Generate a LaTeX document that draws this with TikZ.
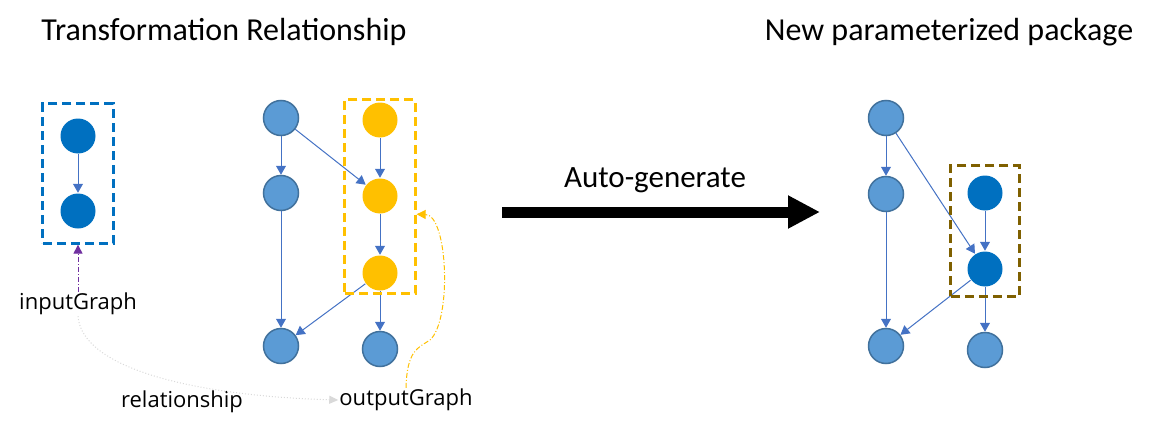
\documentclass[tikz,border=0pt]{standalone}
\usepackage{fontspec}
\setmainfont{Carlito}
\newfontfamily\labelfont{Open Sans}
\usetikzlibrary{fit}
\usetikzlibrary{arrows.meta}
\definecolor{lightnode}{HTML}{5B9BD5}
\definecolor{lightrim}{HTML}{41719C}
\definecolor{darknode}{HTML}{0070C0}
\definecolor{goldnode}{HTML}{FFC000}
\definecolor{edgeblue}{HTML}{4472C4}
\definecolor{pkgbrown}{HTML}{7F6000}
\definecolor{linkpurple}{HTML}{7030A0}
\tikzset{vert/.style={circle, minimum size=35pt, inner sep=0pt, draw=lightrim, line width=1.5pt, fill=lightnode}}
\tikzset{dark/.style={vert, draw=none, fill=darknode}}
\tikzset{gold/.style={vert, draw=none, fill=goldnode}}
\tikzset{link/.style={edgeblue, line width=1pt, -{Triangle[width=10pt,length=9pt]}}}
\tikzset{frame/.style={rectangle, line width=2.8pt, dash pattern=on 9pt off 5pt, inner sep=9pt}}
\tikzset{tag/.style={font=\labelfont\fontsize{22}{26}\selectfont, inner sep=1pt}}

\begin{document}
\begin{tikzpicture}[x=1pt, y=-1pt]

    \useasboundingbox (0,0) rectangle (1152,431);

    \node[font=\fontsize{32}{36}\selectfont] (title1) at (224,32) {Transformation Relationship};
    \node[font=\fontsize{32}{36}\selectfont] (title2) at (949,32) {New parameterized package};

    % input graph
    \node[dark] (in1) at (78,136) {};
    \node[dark] (in2) at (78,211) {};
    \draw[link] (in1) -- (in2);
    \node[frame, draw=darknode, fit=(in1)(in2), inner xsep=17pt, inner ysep=14pt] (inBox) {};

    % output graph
    \node[vert] (a1) at (281,118) {};
    \node[vert] (a2) at (281,193) {};
    \node[vert] (a3) at (281,346) {};
    \node[gold] (b1) at (380,120) {};
    \node[gold] (b2) at (380,196) {};
    \node[gold] (b3) at (380,273) {};
    \node[vert] (b4) at (380,349) {};
    \draw[link] (a1) -- (a2);
    \draw[link] (a1) -- (b2);
    \draw[link] (a2) -- (a3);
    \draw[link] (b1) -- (b2);
    \draw[link] (b2) -- (b3);
    \draw[link] (b3) -- (a3);
    \draw[link] (b3) -- (b4);
    \node[frame, draw=goldnode, fit=(b1)(b3), inner xsep=17pt, inner ysep=2pt] (outBox) {};

    \node[tag] (inLabel) at (78,304) {inputGraph};
    \node[tag] (relLabel) at (182,402) {relationship};
    \node[tag] (outLabel) at (406,400) {outputGraph};

    \draw[linkpurple, line width=1pt, dash pattern=on 5pt off 2pt on 1pt off 2pt, -{Triangle[width=9pt,length=9pt]}] (inLabel.north) -- (inBox.south);
    \draw[black!15, line width=1pt, dotted, -{Triangle[width=8pt,length=9pt]}] (inLabel.south) .. controls (82,370) and (200,396) .. (outLabel.west);
    \draw[goldnode, line width=1pt, dash pattern=on 5pt off 2pt on 1pt off 2pt, -{Triangle[width=9pt,length=9pt]}] (outLabel.north) .. controls (407,350) and (418,348) .. (430,340) .. controls (452,320) and (448,215) .. (outBox.east |- b2.south);

    % auto-generate
    \coordinate (goFrom) at (502,212);
    \coordinate (goTo) at (820,212);
    \draw[line width=11pt, -{Triangle[width=31pt,length=32pt]}] (goFrom) -- (goTo);
    \node[font=\fontsize{31}{36}\selectfont] (goLabel) at (655,180) {Auto-generate};

    % new package
    \node[vert] (c1) at (886,118) {};
    \node[vert] (c2) at (886,194) {};
    \node[vert] (c3) at (886,346) {};
    \node[dark] (d1) at (985,193) {};
    \node[dark] (d2) at (985,269) {};
    \node[vert] (d3) at (985,350) {};
    \draw[link] (c1) -- (c2);
    \draw[link] (c1) -- (d2);
    \draw[link] (c2) -- (c3);
    \draw[link] (d1) -- (d2);
    \draw[link] (d2) -- (c3);
    \draw[link] (d2) -- (d3);
    \node[frame, draw=pkgbrown, fit=(d1)(d2), inner xsep=16pt, inner ysep=9pt] (pkgBox) {};

  \end{tikzpicture}
\end{document}
